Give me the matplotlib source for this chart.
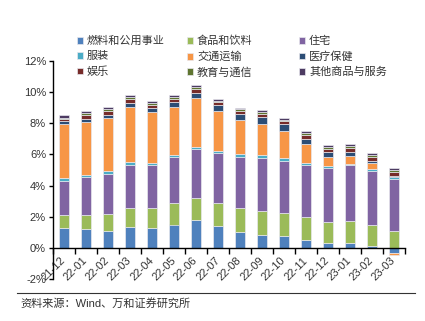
import numpy as np
import matplotlib
matplotlib.use("Agg")
import matplotlib.pyplot as plt

plt.rcParams['font.family'] = ['Liberation Sans', 'Noto Sans CJK SC', 'DejaVu Sans']

# months
months = ["21-12", "22-01", "22-02", "22-03", "22-04", "22-05", "22-06", "22-07",
          "22-08", "22-09", "22-10", "22-11", "22-12", "23-01", "23-02", "23-03"]

# contribution of each item (%)
fuel = [1.30, 1.18, 1.11, 1.37, 1.30, 1.50, 1.82, 1.43, 1.03, 0.83, 0.73, 0.53, 0.28, 0.32, 0.15, -0.30]
food = [0.84, 0.94, 1.09, 1.22, 1.29, 1.37, 1.41, 1.46, 1.54, 1.55, 1.52, 1.46, 1.41, 1.41, 1.33, 1.09]
housing = [2.18, 2.46, 2.57, 2.70, 2.76, 2.96, 3.11, 3.17, 3.29, 3.42, 3.36, 3.34, 3.47, 3.56, 3.48, 3.34]
clothing = [0.16, 0.13, 0.16, 0.21, 0.13, 0.12, 0.13, 0.15, 0.18, 0.15, 0.13, 0.11, 0.11, 0.09, 0.11, 0.11]
transport = [3.50, 3.40, 3.44, 3.57, 3.23, 3.11, 3.18, 2.57, 2.14, 2.03, 1.79, 1.26, 0.57, 0.55, 0.39, -0.15]
medical = [0.17, 0.18, 0.17, 0.22, 0.24, 0.30, 0.32, 0.40, 0.41, 0.45, 0.41, 0.30, 0.30, 0.21, 0.15, 0.08]
recreation = [0.15, 0.23, 0.28, 0.26, 0.23, 0.21, 0.24, 0.20, 0.21, 0.19, 0.20, 0.26, 0.24, 0.30, 0.25, 0.28]
education = [0.07, 0.13, 0.11, 0.13, 0.11, 0.11, 0.11, 0.08, 0.11, 0.11, 0.08, 0.10, 0.11, 0.09, 0.11, 0.11]
other = [0.17, 0.13, 0.13, 0.14, 0.13, 0.13, 0.13, 0.11, 0.10, 0.11, 0.11, 0.13, 0.12, 0.13, 0.13, 0.13]

names = ["燃料和公用事业", "食品和饮料", "住宅", "服装", "交通运输",
         "医疗保健", "娱乐", "教育与通信", "其他商品与服务"]
series = [fuel, food, housing, clothing, transport, medical, recreation, education, other]
colors = ["#4F81BD", "#9BBB59", "#8064A2", "#4BACC6", "#F79646",
          "#2C4D75", "#772C2A", "#5F7530", "#4D3B62"]

fig = plt.figure(figsize=(4.25, 3.21), dpi=100)
ax = fig.add_axes([53 / 425, 1 - 279 / 321, 352 / 425, 218 / 321])

x = np.arange(len(months))
pos_bottom = np.zeros(len(months))
neg_bottom = np.zeros(len(months))
handles = []
for name, vals, c in zip(names, series, colors):
    v = np.array(vals)
    bottom = np.where(v >= 0, pos_bottom, neg_bottom)
    b = ax.bar(x, v, 0.42, bottom=bottom, color=c, edgecolor="#e8e8ee",
               linewidth=0.5, label=name)
    handles.append(b)
    pos_bottom += np.where(v >= 0, v, 0)
    neg_bottom += np.where(v < 0, v, 0)

ax.set_xlim(-0.5, 15.5)
ax.set_ylim(-2, 12)
ax.set_yticks(np.arange(-2, 13, 2))
ax.set_yticklabels([f"{t}%" for t in range(-2, 13, 2)])

# x axis sits on zero line
ax.spines["top"].set_visible(False)
ax.spines["right"].set_visible(False)
ax.spines["bottom"].set_position(("data", 0))
ax.spines["left"].set_linewidth(1.0)
ax.spines["bottom"].set_linewidth(1.0)

ax.set_xticks(x)
ax.set_xticklabels(months, rotation=45, ha="right", va="center",
                   rotation_mode="anchor")
ax.set_xticks(np.arange(-0.5, 16, 1), minor=True)
ax.tick_params(axis="x", which="major", length=0, pad=8, labelsize=8, colors="#333333")
ax.tick_params(axis="x", which="minor", length=4, direction="out", width=1)
ax.tick_params(axis="y", length=3, width=1, labelsize=8, labelcolor="#333333", pad=2)

# legend laid out in 3 fixed-width columns like the original
col_x = [77, 187, 299]
for ci in range(3):
    hs = [handles[ci + 3 * r] for r in range(3)]
    ls = [names[ci + 3 * r] for r in range(3)]
    fig.legend(hs, ls, loc="upper left", bbox_to_anchor=(col_x[ci] / 425, 1 - 36 / 321),
               frameon=False, fontsize=8, handlelength=0.55, handleheight=0.55,
               handletextpad=0.35, labelspacing=0.45, borderpad=0, borderaxespad=0,
               labelcolor="#333333")

# source line
fig.add_artist(plt.Line2D([17 / 425, 415 / 425], [1 - 293 / 321, 1 - 293 / 321],
                          color="#333333", linewidth=0.8))
fig.text(20 / 425, 1 - 303 / 321, "资料来源：Wind、万和证券研究所", fontsize=8,
         color="#333333", va="center", ha="left")

fig.savefig("out.png", dpi=100)
